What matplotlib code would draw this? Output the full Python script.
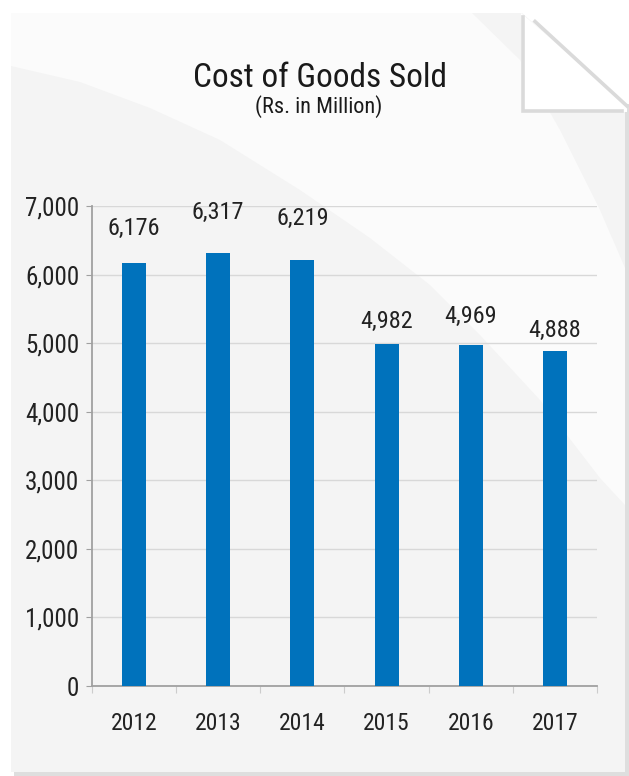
import matplotlib
matplotlib.use("Agg")
import matplotlib.pyplot as plt
from matplotlib.patches import Polygon
import numpy as np

years = ["2012", "2013", "2014", "2015", "2016", "2017"]
values = [6176, 6317, 6219, 4982, 4969, 4888]
value_labels = ["6,176", "6,317", "6,219", "4,982", "4,969", "4,888"]
yticks = [0, 1000, 2000, 3000, 4000, 5000, 6000, 7000]
ytick_labels = ["0", "1,000", "2,000", "3,000", "4,000", "5,000", "6,000", "7,000"]
title = "Cost of Goods Sold"
subtitle = "(Rs. in Million)"

# style: label offsets above bar tops (pixels)
label_offsets_px = [34, 40, 41, 23, 29, 20]

FONT = ["Liberation Sans Narrow", "Roboto Condensed", "DejaVu Sans Condensed", "Liberation Sans", "DejaVu Sans"]
plt.rcParams["font.family"] = FONT

W, H = 629, 776
DPI = 100
fig = plt.figure(figsize=(W / DPI, H / DPI), dpi=DPI)
fig.patch.set_facecolor("white")

# background "paper"
bg = fig.add_axes([0, 0, 1, 1])
bg.set_xlim(0, W)
bg.set_ylim(H, 0)
bg.axis("off")
# edge shadow (right and bottom)
bg.add_patch(Polygon([(624, 104), (629, 104), (629, 776), (14, 776), (14, 771), (624, 771)],
                     closed=True, facecolor="#dedede", edgecolor="none", zorder=0))
paper = [(11, 13), (522, 13), (625, 105), (625, 772), (11, 772)]
bg.add_patch(Polygon(paper, closed=True, facecolor="#f4f4f4", edgecolor="none", zorder=1))
# lighter band
band = [(11, 13), (472, 13), (520, 60), (560, 130), (600, 210), (625, 268),
        (625, 505), (600, 478), (540, 400), (480, 335), (430, 285), (370, 238),
        (300, 190), (220, 140), (150, 108), (80, 82), (11, 66)]
bg.add_patch(Polygon(band, closed=True, facecolor="#fbfbfb", edgecolor="none", zorder=2))
# folded corner
bg.add_patch(Polygon([(521, 13), (521, 112), (627, 112), (627, 104)], closed=True,
                     facecolor="white", edgecolor="none", zorder=3))
bg.plot([522.5, 522.5, 622], [17, 110.5, 110.5], color="#dadada", lw=2.6,
        solid_joinstyle="miter", zorder=4)
bg.plot([535, 627], [21.5, 106], color="#dadada", lw=2.6, zorder=4)

# chart axes
left, right, top, bottom = 92, 597, 206, 686
ax = fig.add_axes([left / W, (H - bottom) / H, (right - left) / W, (bottom - top) / H])
ax.set_facecolor("none")
x = np.arange(len(years))
ax.bar(x, values, width=0.285, color="#0072bc", zorder=3)
ax.set_xlim(-0.5, len(years) - 0.5)
ax.set_ylim(0, 7000)
ax.set_yticks(yticks)
ax.set_yticklabels(ytick_labels)
ax.set_xticks(x)
ax.set_xticklabels(years)
ax.set_xticks(np.arange(-0.5, len(years)), minor=True)
ax.tick_params(axis="x", which="major", length=0, pad=19, labelsize=17, labelcolor="#222222")
ax.tick_params(axis="x", which="minor", length=5, width=0.8, color="#cccccc", direction="out")
ax.tick_params(axis="y", which="major", length=4, width=0.8, color="#a0a0a0", pad=5,
               labelsize=18, labelcolor="#222222")
ax.grid(axis="y", color="#d8d8d8", lw=1, zorder=0)
for s in ["top", "right"]:
    ax.spines[s].set_visible(False)
for s in ["left", "bottom"]:
    ax.spines[s].set_color("#a0a0a0")
    ax.spines[s].set_linewidth(1.3)

for xi, v, lab, off in zip(x, values, value_labels, label_offsets_px):
    ax.annotate(lab, (xi, v), xytext=(0, off * 72 / DPI), textcoords="offset points",
                ha="center", va="center", fontsize=17.5, color="#222222")

fig.text(320 / W, 1 - 78 / H, title, ha="center", va="center", fontsize=24, color="#1a1a1a")
fig.text(319 / W, 1 - 107 / H, subtitle, ha="center", va="center", fontsize=16, color="#1a1a1a")

fig.savefig("out.png", dpi=DPI)
